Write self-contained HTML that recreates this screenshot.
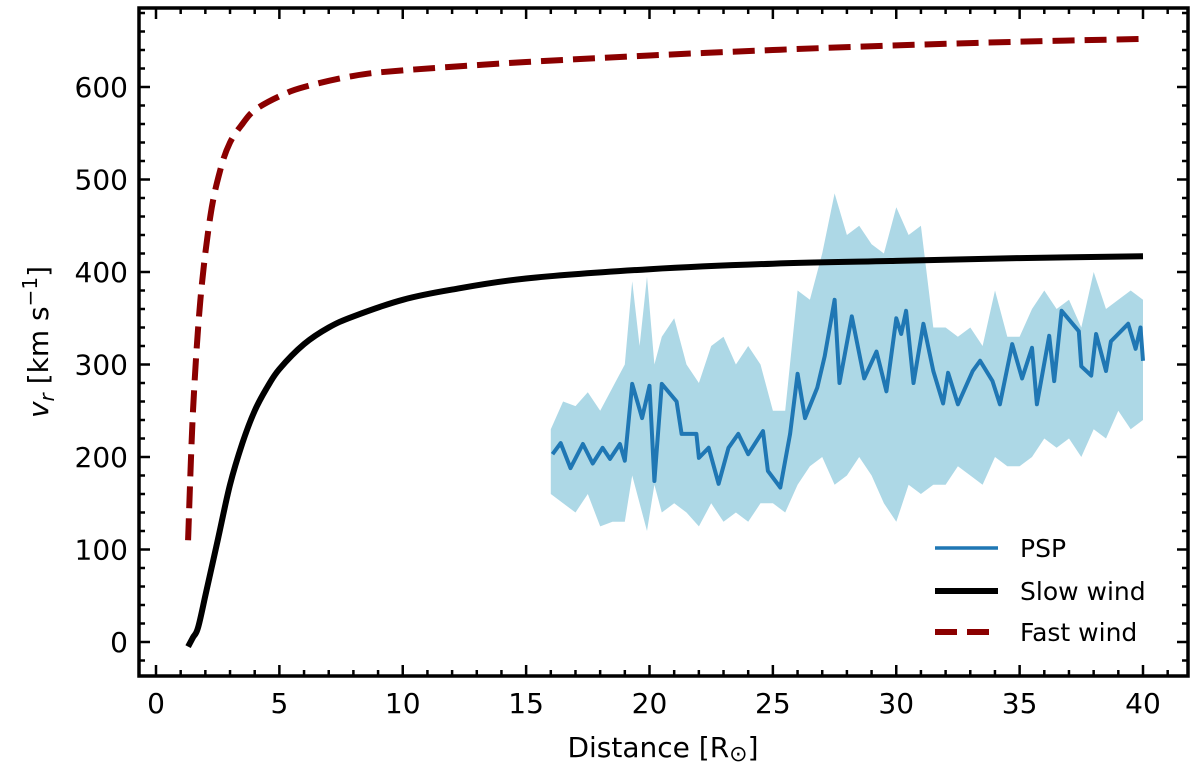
<!DOCTYPE html>
<html><head><meta charset="utf-8"><style>
body{margin:0;background:#fff;}
svg text{font-family:"DejaVu Sans","Liberation Sans",sans-serif;fill:#000;}
</style></head><body>
<svg id="chart" width="1200" height="769" xmlns="http://www.w3.org/2000/svg">
<defs><clipPath id="clip"><rect x="139" y="8" width="1049" height="668"/></clipPath></defs>
<g id="band" clip-path="url(#clip)"></g>
<g id="lines" clip-path="url(#clip)"></g>
<g id="ticks"></g>
<rect x="139" y="8" width="1049" height="668" fill="none" stroke="#000" stroke-width="3.5"/>
<text x="663" y="757" font-size="28" text-anchor="middle">Distance [R<tspan font-size="22" dy="4">⊙</tspan><tspan dy="-4">]</tspan></text>
<text transform="translate(48,342) rotate(-90)" font-size="28" text-anchor="middle"><tspan font-style="italic">v</tspan><tspan font-style="italic" font-size="20" dy="6">r</tspan><tspan dy="-6"> [km s</tspan><tspan font-size="20" dy="-11">−1</tspan><tspan dy="11">]</tspan></text>
<g>
<line x1="935" y1="548" x2="998" y2="548" stroke="#1f77b4" stroke-width="3.5"/>
<text x="1020" y="557" font-size="25">PSP</text>
<line x1="935" y1="591" x2="998" y2="591" stroke="#000" stroke-width="6"/>
<text x="1020" y="600" font-size="25">Slow wind</text>
<line x1="935" y1="632" x2="998" y2="632" stroke="#8b0000" stroke-width="6" stroke-dasharray="22,10"/>
<text x="1020" y="641" font-size="25">Fast wind</text>
</g>
</svg>
<script>
const pspX=[16.07,16.4,16.8,17.3,17.7,18.1,18.4,18.8,19.0,19.3,19.7,20.0,20.2,20.5,21.1,21.3,21.9,22.0,22.4,22.8,23.2,23.6,24.0,24.6,24.8,25.3,25.7,26.0,26.3,26.8,27.1,27.5,27.7,28.2,28.7,29.2,29.6,30.0,30.2,30.4,30.7,31.1,31.5,31.9,32.1,32.5,33.1,33.4,33.9,34.2,34.7,35.1,35.5,35.7,36.2,36.4,36.7,37.4,37.5,37.9,38.1,38.5,38.7,39.4,39.7,39.9,40.0];
const pspMean=[203,215,188,214,193,210,198,214,196,279,242,277,174,279,260,225,225,199,210,171,210,225,203,228,185,167,225,290,242,275,309,370,280,352,285,314,271,350,333,358,280,344,293,258,291,257,293,304,282,257,322,285,318,257,331,282,358,336,298,288,333,293,325,344,317,340,304];
const bandX=[16,16.5,17,17.5,18,18.5,19,19.3,19.6,19.9,20.2,20.5,21,21.5,22,22.5,23,23.5,24,24.5,25,25.5,26,26.5,27,27.5,28,28.5,29,29.5,30,30.5,31,31.5,32,32.5,33,33.5,34,34.5,35,35.5,36,36.5,37,37.5,38,38.5,39,39.5,40];
const bandUpper=[230,260,255,270,250,275,300,390,320,395,300,330,350,300,280,320,330,300,320,300,250,250,380,370,420,485,440,450,430,420,470,440,450,340,340,330,340,320,380,330,330,360,380,360,370,340,400,360,370,380,370];
const bandLower=[160,150,140,160,125,130,130,180,150,120,170,140,150,140,125,150,130,140,130,150,150,140,170,190,200,170,180,200,180,150,130,170,160,170,170,190,180,170,200,190,190,200,220,210,220,200,230,220,250,230,240];
const slowX=[1.3,1.5,1.7,2,2.5,3,3.5,4,4.5,5,6,7,8,10,12,15,20,25,30,35,40];
const slowV=[-5,5,15,50,110,170,215,250,275,295,322,340,352,370,381,393,403,409,412,415,417];
const fastX=[1.3,1.5,1.8,2.2,2.6,3,3.5,4,5,6,8,10,15,20,25,30,35,40];
const fastV=[110,250,370,460,510,540,560,575,590,600,612,618,627,634,640,645,649,652];
const xTicks=[0,5,10,15,20,25,30,35,40];
const yTicks=[0,100,200,300,400,500,600];

const X=v=>156+v*24.675, Y=v=>642-v*0.925;
const NS='http://www.w3.org/2000/svg';
function mk(tag,attrs,parent){const e=document.createElementNS(NS,tag);for(const k in attrs)e.setAttribute(k,attrs[k]);parent.appendChild(e);return e;}
const band=document.getElementById('band'),lines=document.getElementById('lines'),ticks=document.getElementById('ticks');
let d='M'+bandX.map((x,i)=>X(x).toFixed(1)+','+Y(bandUpper[i]).toFixed(1)).join('L');
for(let i=bandX.length-1;i>=0;i--)d+='L'+X(bandX[i]).toFixed(1)+','+Y(bandLower[i]).toFixed(1);
const bp=mk('path',{d:d+'Z',fill:'#add8e6'},band);


function pl(xs,vs){return xs.map((x,i)=>X(x).toFixed(1)+','+Y(vs[i]).toFixed(1)).join(' ');}
function smooth(xs,vs){const p=xs.map((x,i)=>[X(x),Y(vs[i])]);let s='M'+p[0][0]+','+p[0][1];
for(let i=0;i<p.length-1;i++){const p0=p[Math.max(0,i-1)],p1=p[i],p2=p[i+1],p3=p[Math.min(p.length-1,i+2)];
const c1=[p1[0]+(p2[0]-p0[0])/6,p1[1]+(p2[1]-p0[1])/6],c2=[p2[0]-(p3[0]-p1[0])/6,p2[1]-(p3[1]-p1[1])/6];
s+='C'+c1.map(n=>n.toFixed(1)).join(',')+' '+c2.map(n=>n.toFixed(1)).join(',')+' '+p2[0].toFixed(1)+','+p2[1].toFixed(1);}return s;}
const m=mk('polyline',{points:pl(pspX,pspMean),fill:'none',stroke:'#1f77b4','stroke-width':4,'stroke-linejoin':'round'},lines);


const s=mk('path',{d:smooth(slowX,slowV),fill:'none',stroke:'#000','stroke-width':6,'stroke-linejoin':'round'},lines);


const f=mk('path',{d:smooth(fastX,fastV),fill:'none',stroke:'#8b0000','stroke-width':6,'stroke-dasharray':'22,10','stroke-linejoin':'round'},lines);


for(let vv=0;vv<=41;vv++){const x=X(vv);if(x<141||x>1186)continue;const maj=vv%5===0,L=maj?11:6;
mk('line',{x1:x,y1:676,x2:x,y2:676-L,stroke:'#000','stroke-width':2.5},ticks);
mk('line',{x1:x,y1:8,x2:x,y2:8+L,stroke:'#000','stroke-width':2.5},ticks);}
xTicks.forEach(v=>{const t=mk('text',{x:X(v),y:713,'font-size':28,'text-anchor':'middle'},ticks);t.textContent=v;

});
for(let v=-20;v<=700;v+=20){const y=Y(v);if(y<10||y>674)continue;const maj=v%100===0,L=maj?11:6;
mk('line',{x1:139,y1:y,x2:139+L,y2:y,stroke:'#000','stroke-width':2.5},ticks);
mk('line',{x1:1188,y1:y,x2:1188-L,y2:y,stroke:'#000','stroke-width':2.5},ticks);}
yTicks.forEach(v=>{const t=mk('text',{x:128,y:Y(v)+10,'font-size':28,'text-anchor':'end'},ticks);t.textContent=v;

});
</script>
</body></html>
